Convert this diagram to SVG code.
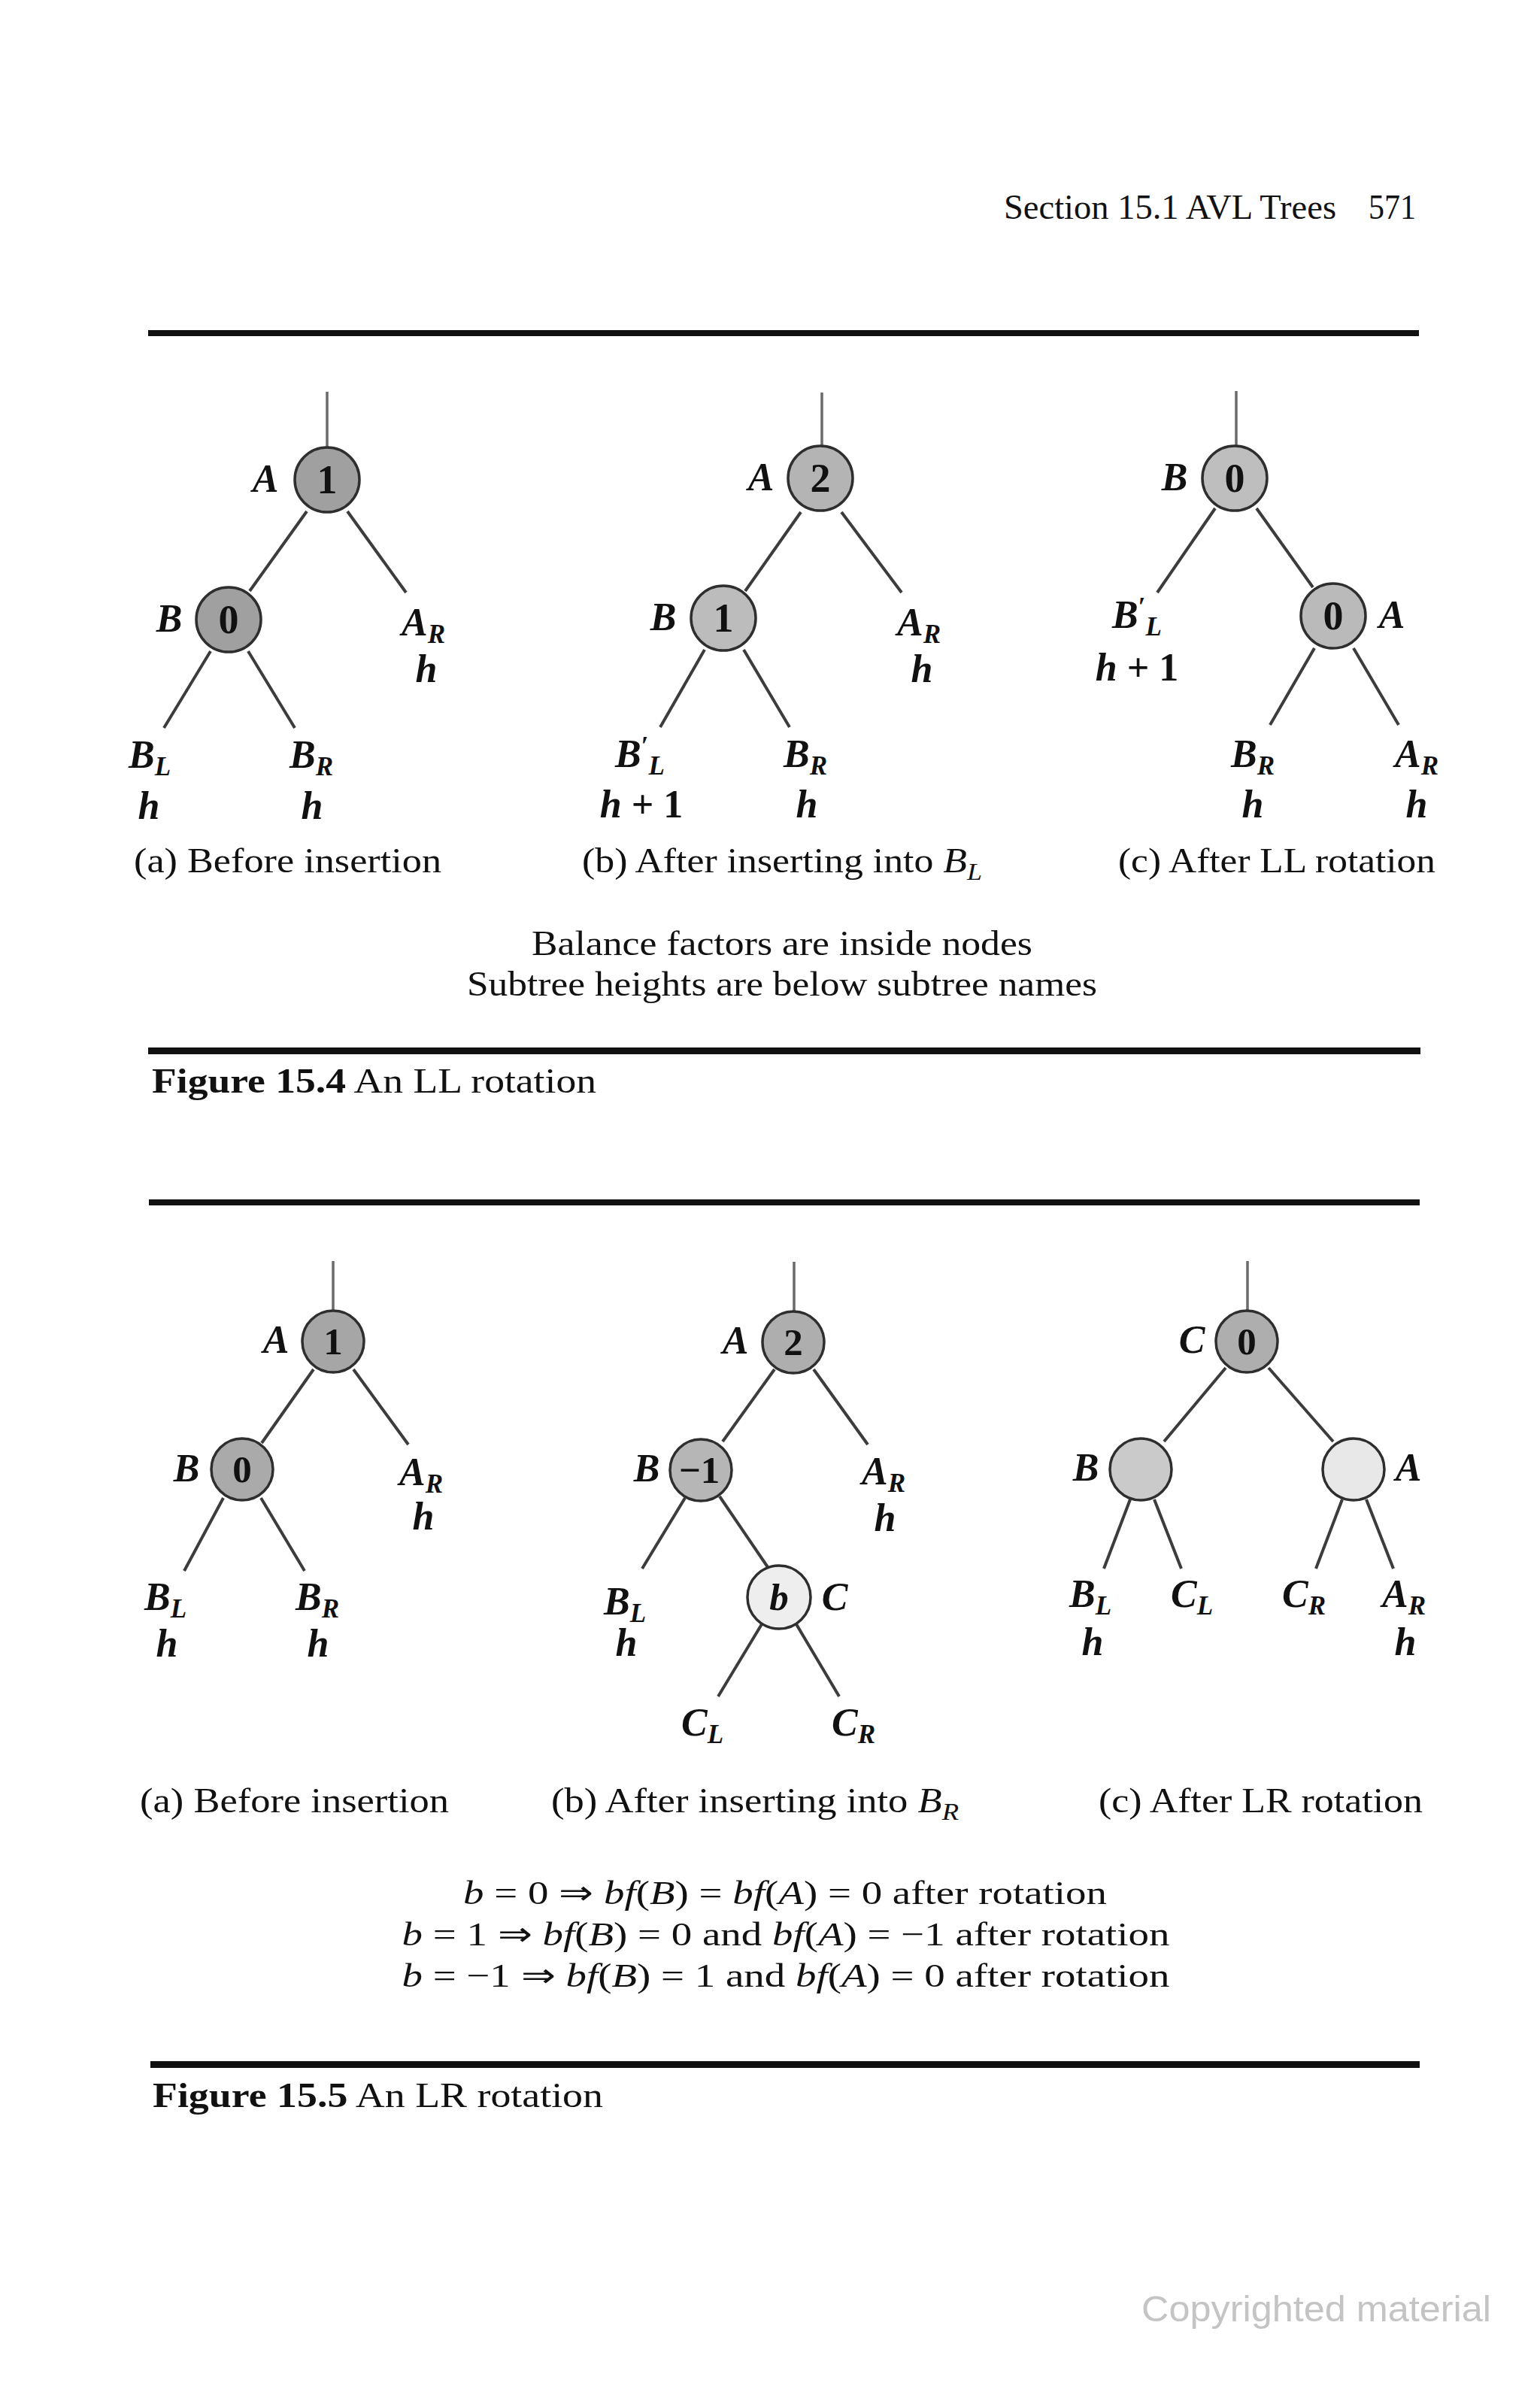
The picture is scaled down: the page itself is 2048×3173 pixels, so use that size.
<svg xmlns="http://www.w3.org/2000/svg" width="2048" height="3173" viewBox="0 0 2048 3173">
<style>
.lbl{font-family:"Liberation Serif",serif;font-weight:bold;font-style:italic;font-size:52px;text-anchor:middle;fill:#111}
.sub{font-size:35px}
.up{font-style:normal}
.bf{font-family:"Liberation Serif",serif;font-weight:bold;font-size:54px;text-anchor:middle;fill:#111}
.bf2{font-family:"Liberation Serif",serif;font-weight:bold;font-size:51px;text-anchor:middle;fill:#111}
.cap{font-family:"Liberation Serif",serif;font-size:46px;fill:#111}
.txt{font-family:"Liberation Serif",serif;font-size:46px;fill:#111;text-anchor:middle}
.frm{font-family:"Liberation Serif",serif;font-size:44px;fill:#111;text-anchor:middle}
.it{font-style:italic}
.edge{stroke:#3c3c3c;stroke-width:4;fill:none}
.root{stroke:#6a6a6a;stroke-width:3.5;fill:none}
.nd{stroke:#2e2e2e;stroke-width:3.5}
.rule{fill:#111}
</style>

<!-- page header -->
<g id="header">
<text class="cap" x="1335" y="291" textLength="442" lengthAdjust="spacingAndGlyphs">Section 15.1 AVL Trees</text>
<text class="cap" x="1820" y="291" textLength="63" lengthAdjust="spacingAndGlyphs">571</text>
</g>

<!-- rules -->
<rect class="rule" x="197" y="439" width="1690" height="8"/>
<rect class="rule" x="197" y="1393" width="1692" height="9"/>
<rect class="rule" x="198" y="1595" width="1690" height="8"/>
<rect class="rule" x="200" y="2741" width="1688" height="9"/>

<g id="connectors">
<!-- Fig 15.4 (a) -->
<line class="root" x1="435" y1="521" x2="435" y2="595"/>
<line class="edge" x1="408" y1="680" x2="332" y2="786"/>
<line class="edge" x1="462" y1="680" x2="540" y2="788"/>
<line class="edge" x1="280" y1="866" x2="218" y2="968"/>
<line class="edge" x1="330" y1="866" x2="392" y2="968"/>
<!-- Fig 15.4 (b) -->
<line class="root" x1="1093" y1="522" x2="1093" y2="593"/>
<line class="edge" x1="1065" y1="681" x2="991" y2="786"/>
<line class="edge" x1="1119" y1="681" x2="1199" y2="788"/>
<line class="edge" x1="937" y1="864" x2="878" y2="967"/>
<line class="edge" x1="989" y1="864" x2="1050" y2="967"/>
<!-- Fig 15.4 (c) -->
<line class="root" x1="1644" y1="520" x2="1644" y2="593"/>
<line class="edge" x1="1616" y1="676" x2="1539" y2="788"/>
<line class="edge" x1="1671" y1="676" x2="1746" y2="781"/>
<line class="edge" x1="1748" y1="862" x2="1689" y2="964"/>
<line class="edge" x1="1800" y1="862" x2="1860" y2="964"/>
<!-- Fig 15.5 (a) -->
<line class="root" x1="443" y1="1677" x2="443" y2="1743"/>
<line class="edge" x1="417" y1="1821" x2="348" y2="1919"/>
<line class="edge" x1="470" y1="1821" x2="543" y2="1921"/>
<line class="edge" x1="297" y1="1992" x2="245" y2="2089"/>
<line class="edge" x1="347" y1="1992" x2="405" y2="2089"/>
<!-- Fig 15.5 (b) -->
<line class="root" x1="1056" y1="1678" x2="1056" y2="1744"/>
<line class="edge" x1="1030" y1="1821" x2="961" y2="1917"/>
<line class="edge" x1="1082" y1="1821" x2="1154" y2="1921"/>
<line class="edge" x1="911" y1="1992" x2="854" y2="2086"/>
<line class="edge" x1="957" y1="1990" x2="1021" y2="2084"/>
<line class="edge" x1="1013" y1="2160" x2="955" y2="2256"/>
<line class="edge" x1="1059" y1="2160" x2="1116" y2="2256"/>
<!-- Fig 15.5 (c) -->
<line class="root" x1="1659" y1="1677" x2="1659" y2="1743"/>
<line class="edge" x1="1630" y1="1819" x2="1548" y2="1917"/>
<line class="edge" x1="1687" y1="1819" x2="1773" y2="1917"/>
<line class="edge" x1="1503" y1="1994" x2="1468" y2="2086"/>
<line class="edge" x1="1535" y1="1994" x2="1571" y2="2086"/>
<line class="edge" x1="1785" y1="1994" x2="1750" y2="2086"/>
<line class="edge" x1="1817" y1="1994" x2="1853" y2="2086"/>
</g>

<!-- ===== Figure 15.4 (a) ===== -->
<g id="f4a-A"><circle class="nd" cx="435" cy="638" r="43" fill="#a0a0a0"/><text class="bf" x="435" y="656">1</text><text class="lbl" x="353" y="654">A</text></g>
<g id="f4a-B"><circle class="nd" cx="304" cy="824" r="43" fill="#a0a0a0"/><text class="bf" x="304" y="842">0</text><text class="lbl" x="225" y="840">B</text></g>
<g id="f4a-AR"><text class="lbl" x="563" y="845">A<tspan class="sub" dy="10">R</tspan></text><text class="lbl" x="567" y="907">h</text></g>
<g id="f4a-BL"><text class="lbl" x="199" y="1021">B<tspan class="sub" dy="10">L</tspan></text><text class="lbl" x="198" y="1089">h</text></g>
<g id="f4a-BR"><text class="lbl" x="414" y="1021">B<tspan class="sub" dy="10">R</tspan></text><text class="lbl" x="415" y="1089">h</text></g>
<text class="cap" x="178" y="1160" textLength="409" lengthAdjust="spacingAndGlyphs">(a) Before insertion</text>

<!-- ===== Figure 15.4 (b) ===== -->
<g id="f4b-A"><circle class="nd" cx="1091" cy="636" r="43" fill="#b4b4b4"/><text class="bf" x="1091" y="654">2</text><text class="lbl" x="1012" y="652">A</text></g>
<g id="f4b-B"><circle class="nd" cx="962" cy="822" r="43" fill="#bcbcbc"/><text class="bf" x="962" y="840">1</text><text class="lbl" x="882" y="838">B</text></g>
<g id="f4b-AR"><text class="lbl" x="1222" y="845">A<tspan class="sub" dy="10">R</tspan></text><text class="lbl" x="1226" y="907">h</text></g>
<g id="f4b-BL"><text class="lbl" x="851" y="1020">B<tspan class="sub up" dy="-16" font-size="30">′</tspan><tspan class="sub" dy="26">L</tspan></text><text class="lbl" x="853" y="1087">h<tspan class="up"> + 1</tspan></text></g>
<g id="f4b-BR"><text class="lbl" x="1071" y="1020">B<tspan class="sub" dy="10">R</tspan></text><text class="lbl" x="1073" y="1087">h</text></g>
<text class="cap" x="774" y="1160" textLength="532" lengthAdjust="spacingAndGlyphs">(b) After inserting into <tspan class="it">B</tspan><tspan class="it" font-size="32" dy="10">L</tspan></text>

<!-- ===== Figure 15.4 (c) ===== -->
<g id="f4c-B"><circle class="nd" cx="1642" cy="636" r="43" fill="#bebebe"/><text class="bf" x="1642" y="654">0</text><text class="lbl" x="1562" y="652">B</text></g>
<g id="f4c-A"><circle class="nd" cx="1773" cy="819" r="43" fill="#bababa"/><text class="bf" x="1773" y="837">0</text><text class="lbl" x="1851" y="835">A</text></g>
<g id="f4c-BL"><text class="lbl" x="1512" y="835">B<tspan class="sub up" dy="-16" font-size="30">′</tspan><tspan class="sub" dy="26">L</tspan></text><text class="lbl" x="1512" y="905">h<tspan class="up"> + 1</tspan></text></g>
<g id="f4c-BR"><text class="lbl" x="1666" y="1020">B<tspan class="sub" dy="10">R</tspan></text><text class="lbl" x="1666" y="1087">h</text></g>
<g id="f4c-AR"><text class="lbl" x="1884" y="1020">A<tspan class="sub" dy="10">R</tspan></text><text class="lbl" x="1884" y="1087">h</text></g>
<text class="cap" x="1487" y="1160" textLength="422" lengthAdjust="spacingAndGlyphs">(c) After LL rotation</text>

<text class="txt" x="1040" y="1270" textLength="666" lengthAdjust="spacingAndGlyphs">Balance factors are inside nodes</text>
<text class="txt" x="1040" y="1324" textLength="838" lengthAdjust="spacingAndGlyphs">Subtree heights are below subtree names</text>
<text class="cap" x="202" y="1453" textLength="591" lengthAdjust="spacingAndGlyphs"><tspan font-weight="bold">Figure 15.4</tspan> An LL rotation</text>

<!-- ===== Figure 15.5 (a) ===== -->
<g id="f5a-A"><circle class="nd" cx="443" cy="1784" r="41" fill="#a6a6a6"/><text class="bf2" x="443" y="1801">1</text><text class="lbl" x="367" y="1799">A</text></g>
<g id="f5a-B"><circle class="nd" cx="322" cy="1954" r="41" fill="#aaaaaa"/><text class="bf2" x="322" y="1971">0</text><text class="lbl" x="248" y="1970">B</text></g>
<g id="f5a-AR"><text class="lbl" x="560" y="1975">A<tspan class="sub" dy="10">R</tspan></text><text class="lbl" x="563" y="2034">h</text></g>
<g id="f5a-BL"><text class="lbl" x="220" y="2141">B<tspan class="sub" dy="10">L</tspan></text><text class="lbl" x="222" y="2203">h</text></g>
<g id="f5a-BR"><text class="lbl" x="422" y="2141">B<tspan class="sub" dy="10">R</tspan></text><text class="lbl" x="423" y="2203">h</text></g>
<text class="cap" x="186" y="2410" textLength="411" lengthAdjust="spacingAndGlyphs">(a) Before insertion</text>

<!-- ===== Figure 15.5 (b) ===== -->
<g id="f5b-A"><circle class="nd" cx="1055" cy="1785" r="41" fill="#aeaeae"/><text class="bf2" x="1055" y="1802">2</text><text class="lbl" x="978" y="1800">A</text></g>
<g id="f5b-B"><circle class="nd" cx="932" cy="1955" r="41" fill="#b6b6b6"/><text class="bf2" x="930" y="1972">−1</text><text class="lbl" x="860" y="1970">B</text></g>
<g id="f5b-C"><circle class="nd" cx="1036" cy="2124" r="42" fill="#eeeeee"/><text class="bf2" x="1036" y="2141" font-style="italic">b</text><text class="lbl" x="1110" y="2141">C</text></g>
<g id="f5b-AR"><text class="lbl" x="1175" y="1974">A<tspan class="sub" dy="10">R</tspan></text><text class="lbl" x="1177" y="2036">h</text></g>
<g id="f5b-BL"><text class="lbl" x="831" y="2147">B<tspan class="sub" dy="10">L</tspan></text><text class="lbl" x="833" y="2202">h</text></g>
<g id="f5b-CL"><text class="lbl" x="934" y="2308">C<tspan class="sub" dy="10">L</tspan></text></g>
<g id="f5b-CR"><text class="lbl" x="1135" y="2308">C<tspan class="sub" dy="10">R</tspan></text></g>
<text class="cap" x="733" y="2410" textLength="542" lengthAdjust="spacingAndGlyphs">(b) After inserting into <tspan class="it">B</tspan><tspan class="it" font-size="32" dy="10">R</tspan></text>

<!-- ===== Figure 15.5 (c) ===== -->
<g id="f5c-C"><circle class="nd" cx="1658" cy="1784" r="41" fill="#aeaeae"/><text class="bf2" x="1658" y="1801">0</text><text class="lbl" x="1585" y="1799">C</text></g>
<g id="f5c-B"><circle class="nd" cx="1517" cy="1954" r="41" fill="#cacaca"/><text class="lbl" x="1444" y="1969">B</text></g>
<g id="f5c-A"><circle class="nd" cx="1800" cy="1954" r="41" fill="#e8e8e8"/><text class="lbl" x="1873" y="1969">A</text></g>
<g id="f5c-BL"><text class="lbl" x="1450" y="2137">B<tspan class="sub" dy="10">L</tspan></text><text class="lbl" x="1453" y="2201">h</text></g>
<g id="f5c-CL"><text class="lbl" x="1585" y="2137">C<tspan class="sub" dy="10">L</tspan></text></g>
<g id="f5c-CR"><text class="lbl" x="1734" y="2137">C<tspan class="sub" dy="10">R</tspan></text></g>
<g id="f5c-AR"><text class="lbl" x="1867" y="2137">A<tspan class="sub" dy="10">R</tspan></text><text class="lbl" x="1869" y="2201">h</text></g>
<text class="cap" x="1461" y="2410" textLength="431" lengthAdjust="spacingAndGlyphs">(c) After LR rotation</text>

<!-- formulas -->
<text class="frm" x="1044" y="2532" textLength="856" lengthAdjust="spacingAndGlyphs"><tspan class="it">b</tspan> = 0 ⇒ <tspan class="it">bf</tspan>(<tspan class="it">B</tspan>) = <tspan class="it">bf</tspan>(<tspan class="it">A</tspan>) = 0 after rotation</text>
<text class="frm" x="1045" y="2587" textLength="1021" lengthAdjust="spacingAndGlyphs"><tspan class="it">b</tspan> = 1 ⇒ <tspan class="it">bf</tspan>(<tspan class="it">B</tspan>) = 0 and <tspan class="it">bf</tspan>(<tspan class="it">A</tspan>) = −1 after rotation</text>
<text class="frm" x="1045" y="2642" textLength="1021" lengthAdjust="spacingAndGlyphs"><tspan class="it">b</tspan> = −1 ⇒ <tspan class="it">bf</tspan>(<tspan class="it">B</tspan>) = 1 and <tspan class="it">bf</tspan>(<tspan class="it">A</tspan>) = 0 after rotation</text>

<text class="cap" x="203" y="2802" textLength="599" lengthAdjust="spacingAndGlyphs"><tspan font-weight="bold">Figure 15.5</tspan> An LR rotation</text>

<text x="1518" y="3087" font-family="'Liberation Sans',Arial,sans-serif" font-size="48" fill="#c4c4c4" textLength="465" lengthAdjust="spacingAndGlyphs">Copyrighted material</text>
</svg>
